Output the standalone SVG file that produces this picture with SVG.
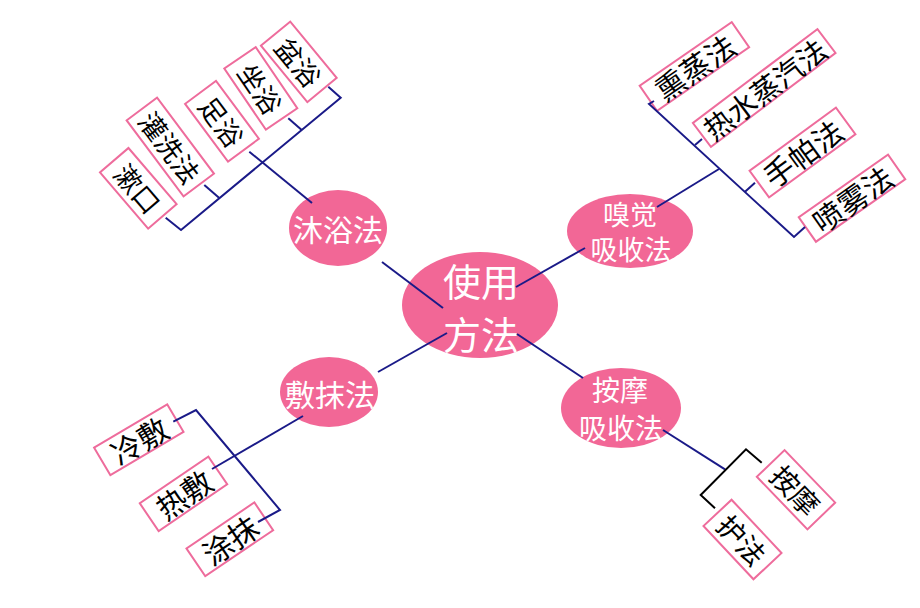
<svg xmlns="http://www.w3.org/2000/svg" width="920" height="608" viewBox="0 0 920 608">
<style>
.hub{fill:#f26796;}
.ht{fill:#ffffff;font-family:"Noto Sans CJK SC","Noto Sans",sans-serif;text-anchor:middle;dominant-baseline:central;}
.box{fill:#ffffff;stroke:#ee6c9c;stroke-width:2;}
.bt{fill:#000000;font-family:"Noto Sans CJK SC","Noto Sans",sans-serif;text-anchor:middle;dominant-baseline:central;}
.ln{stroke:#1a1a88;stroke-width:2;fill:none;}
.lk{stroke:#000000;stroke-width:2;fill:none;}
</style>
<rect width="920" height="608" fill="#ffffff"/>

<g id="center">
<ellipse class="hub" cx="480" cy="305" rx="78" ry="53"/>
<text class="ht" x="481" y="279" font-size="38">使用</text>
<text class="ht" x="481" y="332" font-size="38">方法</text>
</g>
<g id="muyu">
<ellipse class="hub" cx="338" cy="228" rx="49" ry="38"/>
<text class="ht" x="338" y="228" font-size="30">沐浴法</text>
</g>
<g id="xiujue">
<ellipse class="hub" cx="630" cy="231" rx="63" ry="37"/>
<text class="ht" x="630" y="213" font-size="27">嗅觉</text>
<text class="ht" x="631" y="248" font-size="27">吸收法</text>
</g>
<g id="fumo">
<ellipse class="hub" cx="329" cy="392" rx="49" ry="35"/>
<text class="ht" x="330" y="393" font-size="30">敷抹法</text>
</g>
<g id="anmo">
<ellipse class="hub" cx="621" cy="408" rx="60" ry="40"/>
<text class="ht" x="620" y="389" font-size="28">按摩</text>
<text class="ht" x="621" y="427" font-size="28">吸收法</text>
</g>

<g id="shukou" transform="translate(138.3,188.3) rotate(49.4)">
<rect class="box" x="-37" y="-18.75" width="74" height="37.5"/>
<text class="bt" x="0" y="0" font-size="27">漱口</text>
</g>
<g id="guanxi" transform="translate(170.3,147) rotate(53.2)">
<rect class="box" x="-47.5" y="-19" width="95" height="38"/>
<text class="bt" x="0" y="0" font-size="27">灌洗法</text>
</g>
<g id="zuyu" transform="translate(222,121.3) rotate(53.4)">
<rect class="box" x="-36" y="-19.25" width="72" height="38.5"/>
<text class="bt" x="0" y="0" font-size="27">足浴</text>
</g>
<g id="zuoyu" transform="translate(260.8,88.4) rotate(55.8)">
<rect class="box" x="-37" y="-19" width="74" height="38"/>
<text class="bt" x="0" y="0" font-size="27">坐浴</text>
</g>
<g id="penyu" transform="translate(298.8,61.8) rotate(50.5)">
<rect class="box" x="-36.5" y="-19" width="73" height="38"/>
<text class="bt" x="0" y="0" font-size="27">盆浴</text>
</g>

<g id="xunzheng" transform="translate(694.4,66.5) rotate(-34.7)">
<rect class="box" x="-56" y="-15.25" width="112" height="30.5"/>
<text class="bt" x="0" y="0" font-size="30">熏蒸法</text>
</g>
<g id="reshui" transform="translate(764.2,88) rotate(-37)">
<rect class="box" x="-78" y="-15" width="156" height="30"/>
<text class="bt" x="0" y="0" font-size="29">热水蒸汽法</text>
</g>
<g id="shoupa" transform="translate(802.5,152.5) rotate(-36.2)">
<rect class="box" x="-53.5" y="-16.5" width="107" height="33"/>
<text class="bt" x="0" y="0" font-size="30">手帕法</text>
</g>
<g id="penwu" transform="translate(852,198.2) rotate(-35)">
<rect class="box" x="-54.5" y="-15" width="109" height="30"/>
<text class="bt" x="0" y="0" font-size="30">喷雾法</text>
</g>

<g id="lengfu" transform="translate(138.8,439.7) rotate(-30.6)">
<rect class="box" x="-42.5" y="-16" width="85" height="32"/>
<text class="bt" x="0" y="0" font-size="30">冷敷</text>
</g>
<g id="refu" transform="translate(183.5,493.8) rotate(-34.3)">
<rect class="box" x="-41.5" y="-16.75" width="83" height="33.5"/>
<text class="bt" x="0" y="0" font-size="30">热敷</text>
</g>
<g id="tumo" transform="translate(229.8,539.3) rotate(-34.1)">
<rect class="box" x="-41" y="-16.75" width="82" height="33.5"/>
<text class="bt" x="0" y="0" font-size="30">涂抹</text>
</g>

<g id="anmo2" transform="translate(796,489.7) rotate(46.1)">
<rect class="box" x="-36.5" y="-19.25" width="73" height="38.5"/>
<text class="bt" x="0" y="0" font-size="28">按摩</text>
</g>
<g id="hufa" transform="translate(742.5,539.5) rotate(46.8)">
<rect class="box" x="-36.5" y="-19.25" width="73" height="38.5"/>
<text class="bt" x="0" y="0" font-size="28">护法</text>
</g>

<g id="connectors">
<line class="ln" x1="382" y1="262" x2="443" y2="308"/>
<line class="ln" x1="516" y1="287" x2="585" y2="248"/>
<line class="ln" x1="447" y1="333" x2="378" y2="372"/>
<line class="ln" x1="517" y1="334" x2="583" y2="378"/>

<line class="ln" x1="312" y1="203" x2="249.3" y2="151.7"/>
<polyline class="ln" points="165.7,217.7 181,230 340.7,97.7 328.3,86.7"/>
<line class="ln" x1="219" y1="197.7" x2="204.3" y2="185"/>
<line class="ln" x1="301.7" y1="130" x2="288.3" y2="118.3"/>

<line class="ln" x1="657" y1="207" x2="719" y2="169"/>
<polyline class="ln" points="654,101 649,104 794,237 805,227"/>
<line class="ln" x1="695" y1="145" x2="702" y2="139"/>
<line class="ln" x1="745" y1="191.7" x2="755" y2="182.7"/>

<line class="ln" x1="303" y1="416" x2="212" y2="469"/>
<polyline class="ln" points="173.3,421.7 196,410 280,510 258,522"/>

<line class="ln" x1="663" y1="430" x2="725" y2="469.3"/>
<polyline class="lk" points="761.7,462.7 746,449.3 700.7,495 715,508.3"/>
</g>
</svg>
